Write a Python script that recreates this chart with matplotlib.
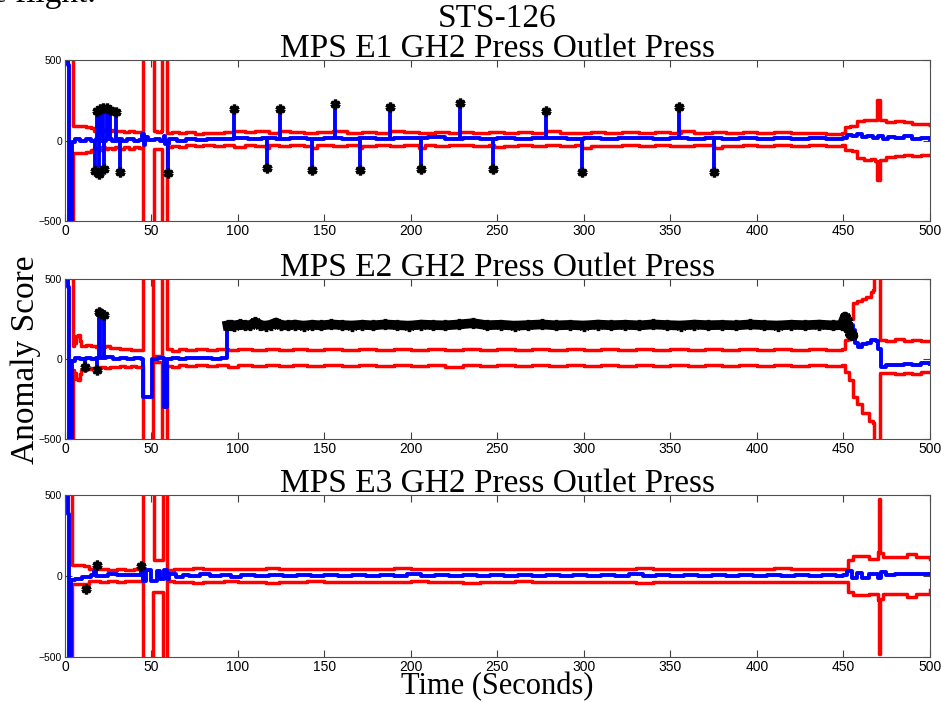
import matplotlib.pyplot as plt

# ---- data (time in s, anomaly score) ----
e1_upper = [(0, 700), (4, 700), (4.5, 90), (8, 88), (12, 86), (15, 80), (17, 62), (19, 74), (21, 58), (23, 70),
            (25, 60), (27, 66), (29, 56), (31, 62), (34, 52), (37, 58), (40, 50), (43, 54), (45, 50), (45.3, 700),
            (51, 700), (51.3, 60), (53, 55), (55.5, 58), (56, 700), (59, 700), (59.3, 45), (62, 52), (66, 44),
            (70, 50), (75, 43), (80, 49), (86, 45), (92, 52), (98, 58), (104, 50), (110, 56), (118, 48), (124, 62),
            (130, 50), (138, 46), (146, 52), (155, 60), (163, 46), (172, 52), (180, 48), (188, 62), (196, 50),
            (205, 45), (214, 52), (222, 48), (228, 55), (236, 44), (245, 50), (254, 45), (262, 52), (270, 44),
            (278, 60), (286, 48), (295, 44), (304, 52), (312, 46), (322, 50), (332, 44), (341, 50), (350, 46),
            (356, 58), (364, 44), (374, 50), (382, 45), (392, 50), (400, 44), (410, 52), (420, 45), (430, 48),
            (440, 43), (449, 46), (451, 86), (454, 90), (458, 120), (462, 128), (466, 125), (468.5, 130),
            (469.5, 253), (470.5, 253), (471, 130), (475, 117), (480, 120), (485, 112), (490, 105), (495, 100),
            (500, 96)]
e1_lower = [(0, -700), (4, -700), (4.5, -78), (8, -76), (12, -74), (15, -60), (17, -48), (19, -58), (21, -42),
            (23, -54), (25, -44), (27, -52), (29, -40), (31, -50), (34, -42), (37, -50), (40, -40), (43, -46),
            (45, -42), (45.3, -700), (51, -700), (51.3, -55), (53, -50), (55.5, -52), (56, -700), (59, -700),
            (59.3, -40), (62, -32), (66, -38), (70, -30), (75, -36), (80, -28), (86, -35), (92, -30), (98, -38),
            (104, -30), (110, -36), (116, -45), (118, -30), (124, -36), (130, -28), (138, -34), (143, -45),
            (146, -30), (155, -36), (163, -28), (170, -46), (172, -32), (180, -28), (188, -36), (196, -30),
            (205, -44), (208, -30), (214, -35), (222, -28), (236, -36), (245, -30), (248, -42), (254, -32),
            (262, -28), (270, -36), (278, -30), (286, -34), (295, -28), (299, -46), (304, -32), (312, -36),
            (322, -28), (332, -34), (341, -30), (350, -36), (364, -28), (375, -44), (380, -32), (392, -28),
            (400, -35), (410, -30), (420, -36), (430, -28), (440, -33), (449, -30), (451, -59), (455, -65),
            (458, -110), (462, -121), (466, -118), (468.5, -125), (469.5, -245), (470.5, -245), (471, -120),
            (475, -100), (480, -96), (485, -92), (490, -95), (495, -88), (500, -90)]
e1_score = [(0, 500), (1.5, 470), (2.5, -700), (3.5, -700), (4, -10), (6, 8), (9, -5), (12, 10), (15, 0),
            (18, 12), (21, -4), (24, 8), (27, -6), (30, 10), (33, 0), (36, 8), (40, -4), (43, 6), (44.5, 40),
            (45.5, -30), (46.5, 20), (48, 5), (52, 10), (55, -5), (57, 30), (58, -20), (60, 8), (65, 0), (70, 10),
            (76, 4), (82, 12), (90, 8), (98, 16), (106, 10), (114, 18), (122, 12), (130, 16), (140, 10), (150, 18),
            (160, 12), (170, 16), (180, 10), (190, 18), (200, 14), (210, 20), (220, 12), (230, 18), (240, 10),
            (250, 16), (260, 12), (270, 18), (280, 14), (290, 10), (300, 16), (310, 12), (320, 18), (330, 14),
            (340, 10), (350, 16), (360, 12), (370, 18), (380, 10), (390, 14), (400, 10), (410, 16), (420, 12),
            (430, 14), (440, 10), (450, 14), (452, 35), (455, 25), (458, 40), (461, 22), (464, 30), (467, 18),
            (470, 28), (473, 12), (476, 22), (480, 15), (485, 25), (490, 12), (495, 18), (500, 8)]
e1_anom_t = [17.3, 18.3, 19.7, 20.2, 22.2, 22.5, 24.1, 26.0, 29.5, 31.8, 59.6, 97.9, 116.6, 124.3, 142.6,
             155.9, 170.5, 187.9, 205.8, 228.3, 247.6, 278.4, 298.7, 355.1, 375.3]
e1_anom_v = [-188, 185, -210, 194, 204, -175, 200, 189, 179, -194, -200, 198, -173, 198, -183,
             225, -183, 206, -179, 231, -177, 183, -196, 206, -196]

e2_upper = [(0, 700), (4.2, 700), (4.5, 80), (5.5, 100), (6.5, 145), (7.5, 150), (8.5, 110), (9.5, 80),
            (12, 85), (15, 80), (18, 78), (20, 72), (23, 80), (26, 68), (29, 66), (32, 60), (35, 62), (38, 56),
            (41, 58), (44.5, 55), (45, 700), (50.5, 700), (50.8, 20), (56, 20), (56.3, 700), (58.5, 700),
            (58.8, 60), (62, 52), (66, 60), (70, 55), (76, 62), (82, 56), (88, 60), (94, 54), (100, 60),
            (108, 56), (116, 64), (124, 58), (132, 62), (140, 55), (150, 60), (160, 56), (170, 62), (180, 57),
            (190, 61), (200, 55), (210, 60), (220, 57), (230, 63), (240, 56), (250, 60), (260, 55), (270, 61),
            (280, 56), (290, 60), (300, 55), (310, 62), (320, 57), (330, 60), (340, 55), (350, 61), (360, 56),
            (370, 60), (380, 55), (390, 61), (400, 57), (410, 60), (420, 55), (430, 60), (440, 56), (449, 60),
            (451, 120), (453, 250), (455.7, 348), (458, 360), (461, 375), (463, 389), (466, 420), (467.5, 431),
            (468, 700), (471, 700), (471.2, 119), (475, 115), (480, 122), (485, 112), (490, 118), (495, 110),
            (500, 112)]
e2_lower = [(0, -700), (4.2, -700), (4.5, -70), (5.5, -90), (6.5, -125), (7.5, -131), (8.5, -95), (9.5, -70),
            (12, -65), (15, -55), (18, -60), (20, -50), (23, -56), (26, -48), (29, -52), (32, -45), (35, -50),
            (38, -44), (41, -48), (44.5, -42), (45, -700), (50.5, -700), (50.8, -20), (56, -20), (56.3, -700),
            (58.5, -700), (58.8, -42), (62, -48), (66, -40), (70, -46), (76, -38), (82, -45), (88, -40),
            (94, -47), (100, -40), (108, -44), (116, -38), (124, -46), (132, -40), (140, -44), (150, -38),
            (160, -45), (170, -40), (180, -46), (190, -39), (200, -44), (210, -40), (220, -47), (230, -40),
            (240, -44), (250, -38), (260, -45), (270, -40), (280, -44), (290, -39), (300, -46), (310, -40),
            (320, -44), (330, -38), (340, -45), (350, -40), (360, -44), (370, -39), (380, -46), (390, -40),
            (400, -44), (410, -38), (420, -45), (430, -40), (440, -44), (449, -40), (451, -80), (453.6, -131),
            (455.7, -235), (458, -280), (461, -340), (465, -385), (467, -402), (468, -700), (471, -700),
            (471.2, -90), (475, -88), (480, -95), (485, -85), (490, -92), (495, -80), (500, -82)]
e2_score = [(0, 500), (1.5, 450), (2.5, -700), (3.5, -700), (4, -10), (6, 8), (9, 0), (12, 6), (15, 2),
            (18, 8), (21, 4), (24, 10), (28, 2), (32, 6), (36, 0), (40, 5), (44, 0), (45, -235), (50, -235),
            (50.5, 0), (54, 5), (57, -300), (58.5, -300), (59, 0), (62, 6), (66, 2), (70, 8), (75, 4), (80, 6),
            (85, 3), (90, 8), (93, 5), (93.5, 212), (200, 214), (300, 212), (400, 214), (455, 212), (455.7, 181),
            (457, 100), (458.6, 77), (461, 95), (464, 100), (466, 118), (469, 110), (470, 60), (472, -48),
            (475, -40), (480, -38), (485, -30), (490, -35), (495, -25), (500, -30)]
e2_anom_t = [11.6, 18.7, 19.5, 20.5, 22.8]
e2_anom_v = [-52, -69, 296, 290, 275]
e2_band_t = [94, 96, 98, 101, 104, 107, 110, 113, 116, 119, 122, 125, 129, 133, 138, 143, 148, 154, 160, 166,
             172, 178, 185, 192, 199, 206, 213, 220, 228, 236, 244, 252, 260, 268, 276, 284, 292, 300, 308, 316,
             324, 332, 340, 348, 356, 364, 372, 380, 388, 396, 404, 412, 420, 428, 436, 444, 449, 451, 452,
             453, 454, 455]
e2_band_v = [210, 214, 208, 216, 212, 210, 230, 212, 208, 214, 228, 212, 210, 215, 208, 214, 210, 216, 212, 209,
             214, 210, 216, 212, 208, 215, 212, 210, 216, 224, 211, 214, 208, 212, 216, 210, 213, 209, 215, 211,
             214, 210, 216, 212, 209, 215, 211, 213, 210, 216, 212, 209, 214, 211, 215, 210, 212, 265, 240,
             195, 165, 150]

e3_upper = [(0, 700), (4, 700), (4.3, 66), (8, 66), (11, 62), (14, 45), (20, 42), (25, 40), (30, 43), (35, 40),
            (40, 41), (44.5, 40), (45, 700), (51, 700), (51.3, 97), (56, 97), (56.5, 700), (58.8, 700), (59, 40),
            (63, 46), (68, 42), (74, 47), (80, 43), (86, 46), (92, 41), (100, 45), (108, 42), (116, 47), (124, 43),
            (132, 46), (140, 42), (150, 45), (160, 41), (170, 46), (180, 43), (190, 47), (200, 42), (210, 45),
            (220, 43), (230, 46), (240, 42), (250, 44), (260, 41), (270, 46), (280, 43), (290, 45), (300, 42),
            (310, 46), (320, 43), (330, 47), (340, 42), (350, 45), (360, 43), (370, 46), (380, 42), (390, 45),
            (400, 43), (410, 47), (420, 42), (430, 46), (440, 43), (449, 46), (452.9, 97), (455.7, 121),
            (461.5, 121), (465, 105), (469, 105), (470, 150), (470.5, 478), (471, 478), (471.5, 140), (473, 117),
            (480, 117), (487, 134), (492, 120), (500, 105)]
e3_lower = [(0, -700), (4, -700), (4.3, -47), (11, -47), (14, -33), (20, -36), (25, -32), (30, -35), (35, -31),
            (40, -34), (44.5, -33), (45, -700), (50.5, -700), (50.8, -99), (56, -99), (56.5, -700), (58.8, -700),
            (59, -33), (63, -40), (68, -35), (74, -42), (80, -36), (86, -40), (92, -34), (100, -38), (108, -35),
            (116, -41), (124, -36), (132, -39), (140, -34), (150, -38), (160, -35), (170, -40), (180, -36),
            (190, -39), (200, -34), (210, -38), (220, -36), (230, -41), (240, -35), (250, -38), (260, -34),
            (270, -39), (280, -36), (290, -40), (300, -35), (310, -38), (320, -36), (330, -41), (340, -35),
            (350, -39), (360, -36), (370, -40), (380, -35), (390, -38), (400, -36), (410, -40), (420, -35),
            (430, -38), (440, -36), (449, -37), (452.9, -99), (455.7, -119), (461.5, -119), (465, -109),
            (469, -109), (470, -150), (470.5, -479), (471, -479), (471.5, -140), (473, -109), (480, -109),
            (487, -130), (492, -112), (500, -88)]
e3_score = [(0, 500), (2, 380), (2.5, -700), (3.2, -700), (3.5, -26), (6, -20), (10, -5), (15, 5), (17, 30),
            (18, 0), (25, 10), (30, 5), (40, 8), (44, 30), (45, -30), (47, 40), (50, -30), (53, 30), (55, -20),
            (57, 40), (59, -20), (60, 10), (64, -5), (68, 8), (72, -2), (78, 10), (84, 0), (90, 8), (96, -4),
            (102, 6), (110, -2), (118, 8), (126, 0), (134, 9), (142, -3), (150, 7), (158, 0), (166, 9), (174, -2),
            (182, 8), (190, 0), (198, 10), (206, -3), (214, 7), (222, 0), (230, 9), (238, -2), (246, 8), (254, 0),
            (262, 9), (270, -3), (278, 7), (286, 0), (294, 9), (302, -2), (310, 8), (318, 0), (326, 10),
            (334, -3), (342, 7), (350, 0), (358, 9), (366, -2), (374, 8), (382, 0), (390, 9), (398, -3),
            (406, 7), (414, 0), (422, 9), (430, -2), (438, 8), (446, 0), (450, 4), (452, 30), (455, -10),
            (458, 20), (461, -15), (465, 15), (470, -10), (472, 25), (475, 5), (480, 10), (490, 15), (500, 10)]
e3_anom_t = [12.1, 18.7, 44.0]
e3_anom_v = [-78, 70, 60]

titles = ['MPS E1 GH2 Press Outlet Press', 'MPS E2 GH2 Press Outlet Press', 'MPS E3 GH2 Press Outlet Press']

SERIF = ['Liberation Serif', 'DejaVu Serif']
SANS = ['Liberation Sans Narrow', 'Liberation Sans', 'DejaVu Sans']
RED, BLUE = '#ff0000', '#0000ff'


def draw_panel(ax, upper, lower, score, anom_t, anom_v, title, stems=True):
    for bound in (upper, lower):
        t, v = zip(*bound)
        ax.plot(t, v, color=RED, lw=2.5, drawstyle='steps-post')
    t, v = zip(*score)
    ax.plot(t, v, color=BLUE, lw=2.8, drawstyle='steps-post')
    if stems:
        ax.vlines(anom_t, 10, anom_v, color=BLUE, lw=2.8)
    ax.plot(anom_t, anom_v, ls='none', marker=(6, 2, 0), ms=7, mew=2.4, color='k')

    ax.set_xlim(0, 500)
    ax.set_ylim(-500, 500)
    ax.set_xticks(range(0, 501, 50))
    ax.set_yticks([-500, 0, 500])
    ax.tick_params(direction='in', length=5, top=True, right=True, width=0.8, color='#404040', pad=2)
    for lab in ax.get_xticklabels():
        lab.set_family(SANS)
        lab.set_fontsize(10)
    for lab in ax.get_yticklabels():
        lab.set_family(SANS)
        lab.set_fontsize(7.5)
    for sp in ax.spines.values():
        sp.set_color('#505050')
    ax.set_title(title, family=SERIF, fontsize=24, pad=2)


fig = plt.figure(figsize=(9.41, 7.02), dpi=100)
ax1 = fig.add_axes([0.069, 0.6852, 0.919, 0.2293])
ax2 = fig.add_axes([0.069, 0.3746, 0.919, 0.228])
ax3 = fig.add_axes([0.069, 0.0641, 0.919, 0.2308])

draw_panel(ax1, e1_upper, e1_lower, e1_score, e1_anom_t, e1_anom_v, titles[0])
draw_panel(ax2, e2_upper, e2_lower, e2_score, e2_anom_t, e2_anom_v, titles[1])
ax2.plot(e2_band_t, e2_band_v, color='k', lw=7, marker=(6, 2, 0), ms=8, mew=2.4)
draw_panel(ax3, e3_upper, e3_lower, e3_score, e3_anom_t, e3_anom_v, titles[2], stems=False)

fig.text(0.5287, 0.973, 'STS-126', family=SERIF, fontsize=24, ha='center', va='center')
fig.text(0.027, 0.487, 'Anomaly Score', family=SERIF, fontsize=24, rotation=90, ha='center', va='center')
fig.text(0.5287, 0.0005, 'Time (Seconds)', family=SERIF, fontsize=22, ha='center', va='bottom')
# fragment of the surrounding page text, cut by the top edge as in the reference
fig.text(-0.008, 0.9975, 'e flight.', family=SERIF, fontsize=24, ha='left', va='baseline')

fig.savefig('out.png', dpi=100)
